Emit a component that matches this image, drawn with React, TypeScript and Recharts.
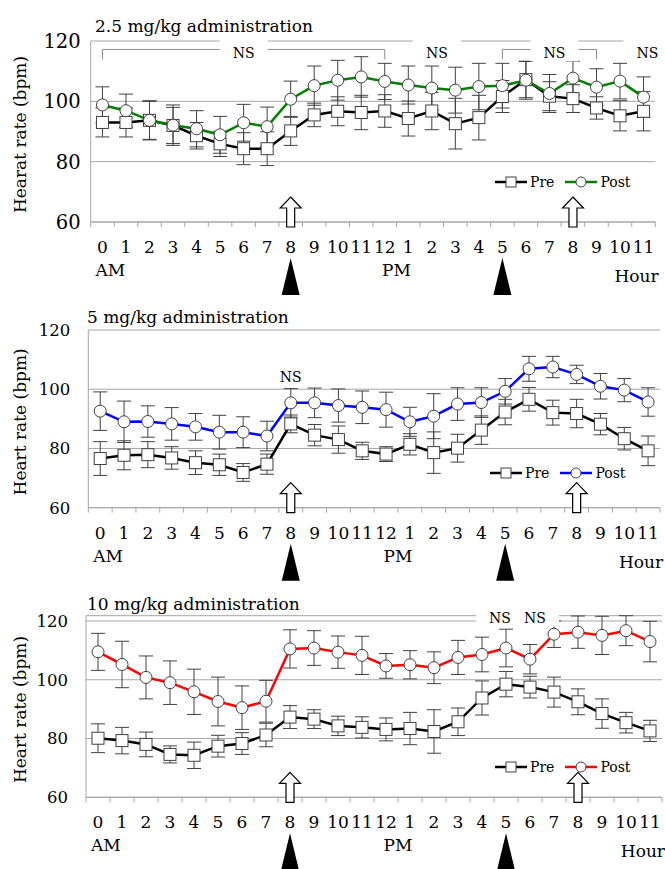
import React from 'react'
import { LineChart, Line, XAxis, YAxis, CartesianGrid, ErrorBar, Legend, ReferenceDot, ReferenceLine } from 'recharts'

// hours of the day, 0 AM .. 11 PM
const HOURS = [0, 1, 2, 3, 4, 5, 6, 7, 8, 9, 10, 11, 12, 13, 14, 15, 16, 17, 18, 19, 20, 21, 22, 23]
const HOUR_LABELS = ['0', '1', '2', '3', '4', '5', '6', '7', '8', '9', '10', '11', '12', '1', '2', '3', '4', '5', '6', '7', '8', '9', '10', '11']
const Y_TICKS = [60, 80, 100, 120]
const DOSE_HOURS = [8, 17]
const ARROW_HOURS = [8, 20]

// 2.5 mg/kg
const PRE_25 = [93, 93, 93.7, 92, 88.6, 85.9, 84.3, 84.3, 90.2, 95.5, 96.7, 96.3, 96.8, 94.3, 96.8, 92.6, 94.6, 101.6, 107.2, 101.7, 100.9, 97.8, 95.2, 96.7]
const PRE_25_SD = [4.8, 4.8, 6.5, 6, 4.4, 4.2, 5.3, 5.6, 4.8, 3.9, 4.8, 5.7, 5.4, 5.8, 6.2, 8.4, 7.4, 5.3, 6, 4.8, 4.6, 3.7, 5, 6.5]
const POST_25 = [98.8, 96.9, 93.7, 92.1, 90.9, 88.9, 92.9, 91.6, 100.7, 105.2, 107, 108.1, 106.6, 105.4, 104.4, 103.7, 104.9, 105.2, 107, 102.6, 107.7, 104.7, 106.7, 101.4]
const POST_25_SD = [6, 5.5, 6.3, 6.7, 6, 6.1, 6.1, 6.5, 6, 6.5, 6.6, 6.7, 6, 6.3, 7.3, 7.6, 7.7, 7.4, 6.3, 6.3, 5.6, 6.1, 5.9, 6.7]
const NS_25 = [{ hour: 6, value: 115.9, dx: 0 }, { hour: 14, value: 115.9, dx: 5 }, { hour: 19, value: 115.9, dx: 5 }, { hour: 23, value: 115.9, dx: 4 }]
const BRACKETS_25 = [{ from: 0, to: 12, top: 117.2, bottom: 113.9 }, { from: 17, to: 21, top: 117.2, bottom: 113.9 }]

// 5 mg/kg
const PRE_5 = [76.6, 77.7, 77.9, 76.8, 75.2, 74.5, 71.9, 74.7, 88.3, 84.5, 83, 79.2, 78.1, 81.4, 78.6, 80.1, 86.2, 92.3, 96.6, 92.1, 91.8, 88.2, 83.3, 79.2]
const PRE_5_SD = [5.7, 4.9, 4.4, 3.8, 4, 3.6, 3, 3.4, 3, 3.6, 4.6, 2.9, 2.5, 3.6, 7, 4.7, 4.8, 4.3, 4, 4.2, 4.8, 3.6, 3.8, 5]
const POST_5 = [92.6, 89, 89.1, 88.3, 87.3, 85.5, 85.5, 84.2, 95.4, 95.4, 94.5, 93.9, 93.1, 89, 90.9, 95, 95.5, 99.3, 106.9, 107.5, 105, 101, 99.7, 95.7]
const POST_5_SD = [6.5, 7, 5.3, 5.5, 4.5, 5.7, 5.2, 5, 4.8, 5, 5.6, 5.5, 5.9, 4.9, 7.6, 5.5, 5, 4.3, 4.2, 3.6, 3.1, 4.3, 3.9, 4.8]
const NS_5 = [{ hour: 8, value: 104.2, dx: 0 }]

// 10 mg/kg
const PRE_10 = [80.1, 79.3, 78, 74.6, 74.3, 77.4, 78.3, 81.2, 87.3, 86.6, 84.3, 83.8, 83.1, 83.4, 82.4, 85.7, 93.8, 98.5, 97.5, 95.8, 92.5, 88.5, 85.4, 82.6]
const PRE_10_SD = [4.9, 4.5, 4.2, 2.9, 4.5, 3.7, 3.7, 4, 3.9, 3.2, 3.3, 3.6, 3.9, 5.5, 7.4, 4.7, 5.8, 4.3, 3.7, 5.1, 4.4, 5, 3.5, 3.6]
const POST_10 = [109.5, 105.2, 100.8, 99, 95.9, 92.6, 90.5, 92.7, 110.5, 110.8, 109.4, 108.3, 104.7, 105.1, 104.1, 107.6, 108.6, 110.8, 107, 115.5, 116.2, 115.1, 116.7, 113]
const POST_10_SD = [6.3, 7.9, 7.3, 7.4, 7.7, 8.3, 7.4, 7.1, 6.5, 5.9, 5.5, 6.5, 4.2, 4.8, 5.4, 5.8, 5.9, 6.4, 5, 4.5, 5.5, 6.5, 5.1, 6.9]
const NS_10 = [{ hour: 17, value: 120.9, dx: -6 }, { hour: 18, value: 120.9, dx: 5 }]

const AXIS = '#a6a6a6'
const BAR = '#404040'
const FONT = "'DejaVu Serif', serif"

const HourTick = (props: any) => {
  const { x, y, payload, index } = props
  const half = payload.offset || props.width / props.visibleTicksCount / 2 || 11.8
  const hour = payload.value
  return (
    <g fontFamily={FONT} fill="#000">
      <line x1={x - half} y1={y} x2={x - half} y2={y + 5} stroke={AXIS} />
      {index === HOURS.length - 1 && <line x1={x + half} y1={y} x2={x + half} y2={y + 5} stroke={AXIS} />}
      <text x={x} y={y + 31} textAnchor="middle" fontSize={17}>{HOUR_LABELS[hour]}</text>
      {hour === 0 && <text x={x - 7} y={y + 54} fontSize={17}>AM</text>}
      {hour === 12 && <text x={x + half} y={y + 54} textAnchor="middle" fontSize={17}>PM</text>}
      {hour === 23 && <text x={x + 15} y={y + 60} textAnchor="end" fontSize={17}>Hour</text>}
      {DOSE_HOURS.includes(hour) && <path d={`M${x},${y + 36} L${x + 9},${y + 73} L${x - 9},${y + 73} Z`} fill="#000" />}
    </g>
  )
}

const squareDot = (p: any) => (
  <rect key={`sq-${p.index}`} x={p.cx - 6} y={p.cy - 6} width={12} height={12} fill="#fff" stroke={BAR} strokeWidth={1} />
)
const circleDot = (p: any) => (
  <circle key={`ci-${p.index}`} cx={p.cx} cy={p.cy} r={6} fill="#fff" stroke={BAR} strokeWidth={1} />
)

const arrowShape = (p: any) => {
  const { cx, cy } = p
  const d = `M${cx},${cy - 25} L${cx + 10.5},${cy - 14} L${cx + 4},${cy - 14} L${cx + 4},${cy + 5} L${cx - 4},${cy + 5} L${cx - 4},${cy - 14} L${cx - 10.5},${cy - 14} Z`
  return <path d={d} fill="#fff" stroke="#000" strokeWidth={1.2} />
}

const nsShape = (dx: number) => (p: any) => (
  <g>
    <rect x={p.cx + dx - 24} y={p.cy - 14} width={48} height={22} fill="#fff" />
    <text x={p.cx + dx} y={p.cy + 5} textAnchor="middle" fontSize={14} fontFamily={FONT} fill="#000">NS</text>
  </g>
)

const PrePostLegend = ({ payload, color }: any) => {
  const items = [...(payload || [])].sort((a: any, b: any) => (a.dataKey === 'pre' ? -1 : b.dataKey === 'pre' ? 1 : 0))
  return (
    <div style={{ display: 'flex', alignItems: 'center', fontSize: 14, lineHeight: '16px', fontFamily: FONT, whiteSpace: 'nowrap', color: '#000' }}>
      {items.map((e: any, i: number) => (
        <div key={i} style={{ display: 'flex', alignItems: 'center', marginRight: i === 0 ? 11 : 0 }}>
          <svg width={32} height={14}>
            <line x1={0} y1={7} x2={32} y2={7} stroke={e.dataKey === 'pre' ? '#000' : color} strokeWidth={2.5} />
            {e.dataKey === 'pre'
              ? <rect x={11} y={2} width={10} height={10} fill="#fff" stroke={BAR} />
              : <circle cx={16} cy={7} r={5} fill="#fff" stroke={BAR} />}
          </svg>
          <span style={{ marginLeft: 3 }}>{e.value}</span>
        </div>
      ))}
    </div>
  )
}

function Panel(props: any) {
  const { top, height, margin, axisWidth, yFont, yGap, yLabel, pre, preSd, post, postSd, color, notes, brackets, legendPos } = props
  const data = HOURS.map((hour, i) => ({ hour, pre: pre[i], preSd: preSd[i], post: post[i], postSd: postSd[i] }))
  return (
    <div style={{ position: 'absolute', left: 0, top }}>
      <LineChart width={665} height={height} data={data} margin={margin}>
        <CartesianGrid vertical={false} stroke={AXIS} />
        <XAxis dataKey="hour" scale="band" interval={0} tickSize={0} tickMargin={0} tickLine={false} axisLine={{ stroke: AXIS }} height={70} tick={<HourTick />} />
        <YAxis
          type="number" domain={[60, 120]} ticks={Y_TICKS} width={axisWidth} tickSize={0} tickMargin={yGap}
          tickLine={false} axisLine={{ stroke: AXIS }} tick={{ fill: '#000', fontSize: yFont, fontFamily: FONT }}
          label={(lp: any) => {
            const cy = lp.viewBox.y + lp.viewBox.height / 2 + 3
            return <text x={20} y={cy} transform={`rotate(-90, 20, ${cy})`} textAnchor="middle" dominantBaseline="central" fontSize={17} fontFamily={FONT} fill="#000">{yLabel}</text>
          }}
        />
        {brackets.map((b: any, i: number) => (
          <ReferenceLine key={`bh${i}`} segment={[{ x: b.from, y: b.top }, { x: b.to, y: b.top }]} stroke="#8c8c8c" />
        ))}
        {brackets.map((b: any, i: number) => (
          <ReferenceLine key={`bl${i}`} segment={[{ x: b.from, y: b.top }, { x: b.from, y: b.bottom }]} stroke="#8c8c8c" />
        ))}
        {brackets.map((b: any, i: number) => (
          <ReferenceLine key={`br${i}`} segment={[{ x: b.to, y: b.top }, { x: b.to, y: b.bottom }]} stroke="#8c8c8c" />
        ))}
        {notes.map((n: any, i: number) => (
          <ReferenceDot key={`ns${i}`} x={n.hour} y={n.value} ifOverflow="visible" shape={nsShape(n.dx)} />
        ))}
        {ARROW_HOURS.map((h) => (
          <ReferenceDot key={`ar${h}`} x={h} y={60} ifOverflow="visible" shape={arrowShape} />
        ))}
        <Legend
          align="center" verticalAlign="middle"
          wrapperStyle={{ left: legendPos[0], top: legendPos[1], width: 'auto' }}
          content={<PrePostLegend color={color} />}
        />
        <Line name="Pre" dataKey="pre" stroke="#000" strokeWidth={2.5} dot={squareDot} activeDot={false} isAnimationActive={false}>
          <ErrorBar dataKey="preSd" width={7} stroke={BAR} strokeWidth={1} direction="y" />
        </Line>
        <Line name="Post" dataKey="post" stroke={color} strokeWidth={2.5} dot={circleDot} activeDot={false} isAnimationActive={false}>
          <ErrorBar dataKey="postSd" width={7} stroke={BAR} strokeWidth={1} direction="y" />
        </Line>
      </LineChart>
    </div>
  )
}

const titleStyle = (left: number, top: number): React.CSSProperties => ({
  position: 'absolute', left, top, fontSize: 17, lineHeight: '17px', whiteSpace: 'nowrap', color: '#000',
})

export default function App() {
  return (
    <div style={{ position: 'relative', width: 665, height: 869, overflow: 'hidden', fontFamily: FONT, background: '#fff' }}>
      <style>{'body{margin:0}'}</style>
      <Panel
        top={0} height={300} margin={{ top: 41, right: 9.7, bottom: 8, left: 0 }} axisWidth={90.7} yFont={19.5} yGap={10}
        yLabel="Hearat rate (bpm)" pre={PRE_25} preSd={PRE_25_SD} post={POST_25} postSd={POST_25_SD}
        color="#008000" notes={NS_25} brackets={BRACKETS_25} legendPos={[495, 174]}
      />
      <Panel
        top={298} height={292} margin={{ top: 32, right: 5, bottom: 12.3, left: 0 }} axisWidth={88.3} yFont={16.5} yGap={18}
        yLabel="Heart rate (bpm)" pre={PRE_5} preSd={PRE_5_SD} post={POST_5} postSd={POST_5_SD}
        color="#0000ff" notes={NS_5} brackets={[]} legendPos={[490, 167]}
      />
      <Panel
        top={590} height={279} margin={{ top: 25.7, right: 3, bottom: 1.7, left: 0 }} axisWidth={86} yFont={16.5} yGap={18}
        yLabel="Heart rate (bpm)" pre={PRE_10} preSd={PRE_10_SD} post={POST_10} postSd={POST_10_SD}
        color="#ff0000" notes={NS_10} brackets={[]} legendPos={[495, 169]}
      />
      <div style={titleStyle(95, 18)}>2.5 mg/kg administration</div>
      <div style={titleStyle(87, 309)}>5 mg/kg administration</div>
      <div style={titleStyle(87, 596)}>10 mg/kg administration</div>
    </div>
  )
}
